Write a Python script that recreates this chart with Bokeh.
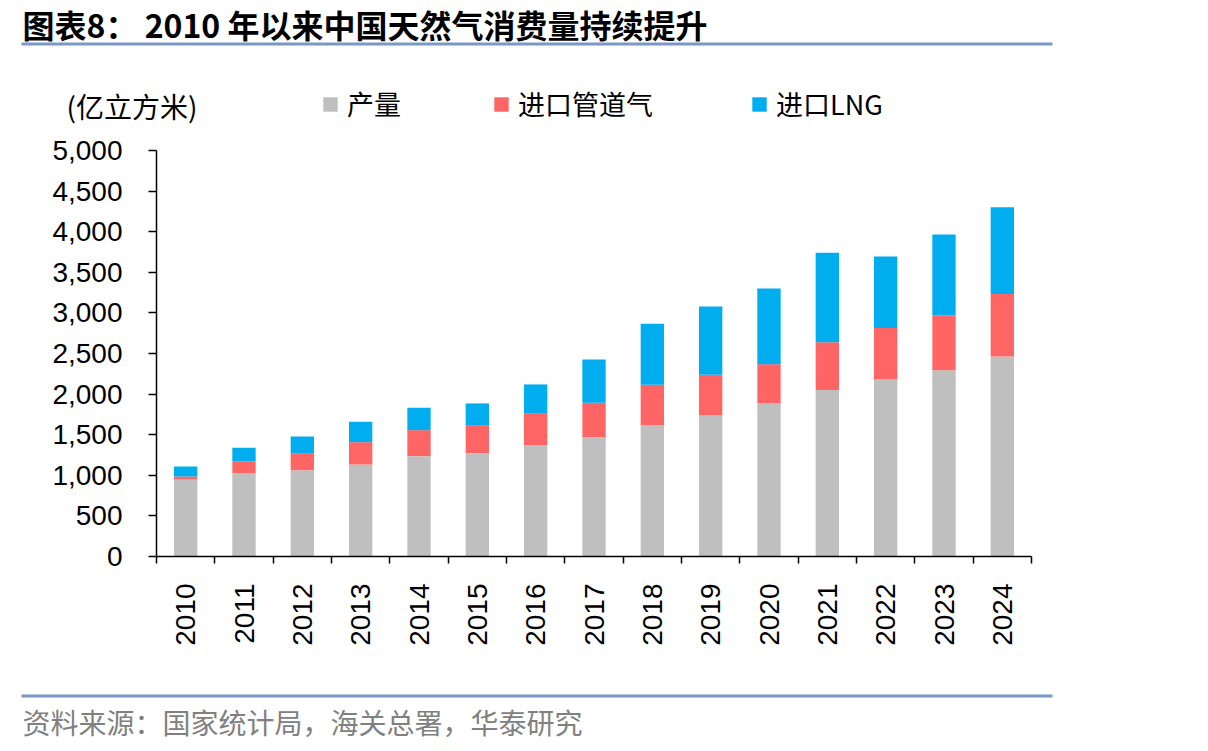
import math
from bokeh.plotting import figure
from bokeh.layouts import column
from bokeh.models import (Range1d, FixedTicker, NumeralTickFormatter, Label,
                          BoxAnnotation, Legend, LegendItem, ColumnDataSource)
from bokeh.embed import file_html
from bokeh.resources import INLINE

# ---- data (亿立方米) ----
years = ["2010", "2011", "2012", "2013", "2014", "2015", "2016", "2017",
         "2018", "2019", "2020", "2021", "2022", "2023", "2024"]
production = [948, 1026, 1063, 1133, 1236, 1273, 1368, 1470, 1614, 1737, 1885, 2049, 2181, 2295, 2464]
pipeline = [37, 144, 210, 275, 320, 337, 390, 423, 501, 501, 484, 591, 632, 674, 768]
lng = [123, 169, 205, 251, 276, 275, 361, 534, 752, 842, 933, 1101, 883, 998, 1068]

series_names = ["产量", "进口管道气", "进口LNG"]
series_colors = ["#BFBFBF", "#FF6565", "#00AEEF"]
y_ticks = list(range(0, 5001, 500))

title_text = "图表8：  2010 年以来中国天然气消费量持续提升"
unit_text = "(亿立方米)"
source_text = "资料来源：国家统计局，海关总署，华泰研究"

# ---- layout constants ----
W = 1208
TOP_H = 125          # header strip: canvas y 0..125
MID_H = 565          # chart strip: canvas y 125..690
BOT_H = 61           # footer strip: canvas y 690..751
FL, FR, FT, FB = 156, 1031, 150, 556  # chart frame edges in canvas px

CJK = "Noto Sans CJK SC"
LAT = "Liberation Sans"
RULE = "#7B97C6"


def strip(height, y0):
    f = figure(width=W, height=height, output_backend="svg", toolbar_location=None,
               x_range=Range1d(0, W), y_range=Range1d(y0 + height, y0),
               x_axis_type=None, y_axis_type=None, frame_align=False,
               min_border=0, min_border_left=0, min_border_right=0,
               min_border_top=0, min_border_bottom=0)
    f.outline_line_color = None
    f.xgrid.visible = False
    f.ygrid.visible = False
    f.background_fill_color = "white"
    f.border_fill_color = "white"
    return f


# ---------------- header ----------------
top = strip(TOP_H, 0)
top.add_layout(Label(x=22, y=23, text=title_text, text_font=CJK,
                     text_font_style="bold", text_font_size="32px",
                     text_color="black", text_baseline="middle", text_align="left"))
top.add_layout(BoxAnnotation(left=21, right=1052, top=42, bottom=45,
                             fill_color=RULE, fill_alpha=1.0, line_color=None))
top.add_layout(Label(x=66, y=105, text=unit_text, text_font=CJK,
                     text_font_size="28px", text_color="black",
                     text_baseline="middle", text_align="left"))

# legend proxies (one off-view sample each, only to give the legend its swatch)
proxy_src = ColumnDataSource(dict(x=[-100.0], top=[0.0]))
square_left = [321, 492, 750]
for name, color, xl in zip(series_names, series_colors, square_left):
    proxy = top.vbar(x="x", top="top", width=1, color=color, line_color=None,
                     source=proxy_src)
    lg = Legend(items=[LegendItem(label=name, renderers=[proxy])],
                location=(xl, 2), orientation="horizontal",
                glyph_width=18, glyph_height=18, label_standoff=8,
                padding=0, margin=0, spacing=0,
                border_line_color=None, background_fill_alpha=0,
                label_text_font=CJK, label_text_font_size="27px",
                label_text_color="black")
    top.add_layout(lg)

# ---------------- chart ----------------
centers = [i + 0.5 for i in range(len(years))]
src = ColumnDataSource(dict(x=centers, years=years, production=production,
                            pipeline=pipeline, lng=lng))

p = figure(width=W, height=MID_H, output_backend="svg", toolbar_location=None,
           x_range=Range1d(0, len(years)), y_range=Range1d(0, 5000),
           frame_align=False,
           min_border_left=FL, min_border_right=W - FR,
           min_border_top=FT - TOP_H, min_border_bottom=TOP_H + MID_H - FB)
p.outline_line_color = None
p.xgrid.visible = False
p.ygrid.visible = False
p.background_fill_color = "white"
p.border_fill_color = "white"

p.vbar_stack(["production", "pipeline", "lng"], x="x", width=0.4,
             color=series_colors, line_color=None, source=src)

xa = p.xaxis[0]
xa.ticker = FixedTicker(ticks=centers, minor_ticks=list(range(len(years) + 1)))
xa.major_label_overrides = {c: y for c, y in zip(centers, years)}
xa.major_tick_out = 0
xa.major_tick_in = 0
xa.minor_tick_out = 7
xa.minor_tick_in = 0
xa.minor_tick_line_color = "black"
xa.minor_tick_line_width = 1.5
xa.axis_line_color = "black"
xa.axis_line_width = 1.5
xa.major_label_orientation = math.pi / 2
xa.major_label_standoff = 20
xa.major_label_text_font = LAT
xa.major_label_text_font_size = "28px"
xa.major_label_text_color = "black"

ya = p.yaxis[0]
ya.ticker = FixedTicker(ticks=y_ticks, minor_ticks=[])
ya.formatter = NumeralTickFormatter(format="0,0")
ya.major_tick_out = 8
ya.major_tick_in = 0
ya.major_tick_line_color = "black"
ya.major_tick_line_width = 1.5
ya.minor_tick_out = 0
ya.minor_tick_in = 0
ya.axis_line_color = "black"
ya.axis_line_width = 1.5
ya.major_label_standoff = 26
ya.major_label_text_font = LAT
ya.major_label_text_font_size = "28px"
ya.major_label_text_color = "black"

# ---------------- footer ----------------
bot = strip(BOT_H, TOP_H + MID_H)
bot.add_layout(BoxAnnotation(left=21, right=1052, top=694, bottom=697,
                             fill_color=RULE, fill_alpha=1.0, line_color=None))
bot.add_layout(Label(x=22, y=721, text=source_text, text_font=CJK,
                     text_font_size="28px", text_color="#808080",
                     text_baseline="middle", text_align="left"))

layout = column(top, p, bot, spacing=0)
open("out.html", "w").write(file_html(layout, INLINE))
